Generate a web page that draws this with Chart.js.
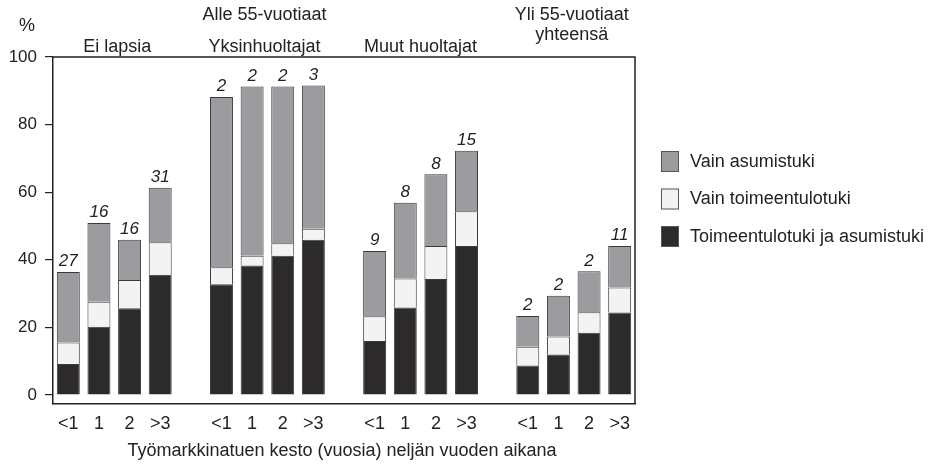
<!DOCTYPE html>
<html>
<head>
<meta charset="utf-8">
<script src="https://cdn.jsdelivr.net/npm/chart.js@4.4.1/dist/chart.umd.min.js"></script>
<style>
  body { margin: 0; background: #fff; }
  #chart { display: block; }
</style>
</head>
<body>
<canvas id="chart" width="935" height="465"></canvas>
<script>
// kesto-luokat ja ryhmät
var durations = ['<1', '1', '2', '>3'];
var groups = ['Ei lapsia', 'Yksinhuoltajat', 'Muut huoltajat', 'Yli 55-vuotiaat yhteensä'];
var yTicks = [0, 20, 40, 60, 80, 100];

// osuudet (%) ryhmittäin, 4 kestoa per ryhmä
var bothSupport = [9.2, 20.2, 25.7, 35.6, 32.8, 38.3, 41.2, 45.9, 16.0, 25.9, 34.3, 44.1, 8.7, 12.0, 18.4, 24.4];
var incomeOnly = [6.3, 7.4, 8.3, 9.6, 5.0, 2.9, 3.7, 3.3, 7.3, 8.6, 9.8, 10.3, 5.6, 5.3, 6.1, 7.4];
var housingOnly = [20.9, 23.3, 11.9, 16.1, 50.4, 50.1, 46.4, 42.4, 19.3, 22.4, 21.2, 17.9, 9.1, 12.1, 12.1, 12.3];
var counts = [27, 16, 16, 31, 2, 2, 2, 3, 9, 8, 8, 15, 2, 2, 2, 11];

var FONT = "'Liberation Sans', Arial, sans-serif";
var colors = { housing: '#9c9ca0', income: '#f2f3f2', both: '#2c2a2b', edge: '#3a3a3a' };

// lisätään tyhjä väli ryhmien väliin
function withGaps(arr, filler) {
  var out = [];
  for (var i = 0; i < arr.length; i++) {
    out.push(arr[i]);
    if (i % 4 == 3 && i < arr.length - 1) out.push(filler);
  }
  return out;
}

var labels = [];
for (var g = 0; g < groups.length; g++) labels = labels.concat(durations);
labels = withGaps(labels, '');
var countsGap = withGaps(counts, null);

function ds(label, data, color) {
  return {
    label: label,
    data: withGaps(data, null),
    backgroundColor: color,
    borderColor: colors.edge,
    borderWidth: 1,
    barPercentage: 0.75,
    categoryPercentage: 1
  };
}

var extras = {
  id: 'extras',
  afterDraw: function (chart) {
    var ctx = chart.ctx;
    var a = chart.chartArea;
    var x = chart.scales.x;
    ctx.save();
    // kehys ylä- ja oikealle
    ctx.strokeStyle = '#222';
    ctx.lineWidth = 1.5;
    ctx.beginPath();
    ctx.moveTo(a.left, a.top);
    ctx.lineTo(a.right, a.top);
    ctx.lineTo(a.right, a.bottom);
    ctx.stroke();

    // lukumäärät pylväiden päälle
    var meta = chart.getDatasetMeta(2);
    ctx.fillStyle = '#222';
    ctx.font = 'italic 17px ' + FONT;
    ctx.textAlign = 'center';
    ctx.textBaseline = 'bottom';
    for (var i = 0; i < countsGap.length; i++) {
      if (countsGap[i] == null) continue;
      var bar = meta.data[i];
      ctx.fillText(countsGap[i], bar.x, bar.y - 2);
    }

    // otsikot
    ctx.font = '18px ' + FONT;
    ctx.textBaseline = 'middle';
    var centers = [];
    for (var g = 0; g < 4; g++) {
      var first = g * 5, last = g * 5 + 3;
      centers.push((x.getPixelForValue(first) + x.getPixelForValue(last)) / 2);
    }
    ctx.fillText('%', 27, 26);
    ctx.fillText(groups[0], centers[0] + 3, 47);
    ctx.fillText(groups[1], centers[1] - 3, 47);
    ctx.fillText(groups[2], centers[2], 47);
    ctx.fillText('Alle 55-vuotiaat', centers[1] - 3, 15);
    ctx.fillText('Yli 55-vuotiaat', centers[3] - 2, 15);
    ctx.fillText('yhteensä', centers[3] - 2, 35);
    ctx.fillText('Työmarkkinatuen kesto (vuosia) neljän vuoden aikana', (a.left + a.right) / 2 - 2, 451);

    // selite
    var items = [
      ['Vain asumistuki', colors.housing],
      ['Vain toimeentulotuki', colors.income],
      ['Toimeentulotuki ja asumistuki', colors.both]
    ];
    ctx.textAlign = 'left';
    for (var k = 0; k < items.length; k++) {
      var top = 151 + k * 37.5;
      ctx.fillStyle = items[k][1];
      ctx.fillRect(661, top, 18, 21);
      ctx.strokeStyle = '#555';
      ctx.lineWidth = 1;
      ctx.strokeRect(661.5, top + 0.5, 17, 20);
      ctx.fillStyle = '#222';
      ctx.fillText(items[k][0], 690, top + 11);
    }
    ctx.restore();
  }
};

new Chart(document.getElementById('chart'), {
  type: 'bar',
  data: {
    labels: labels,
    datasets: [
      ds('Toimeentulotuki ja asumistuki', bothSupport, colors.both),
      ds('Vain toimeentulotuki', incomeOnly, colors.income),
      ds('Vain asumistuki', housingOnly, colors.housing)
    ]
  },
  options: {
    responsive: false,
    animation: false,
    layout: { padding: { left: 0, top: 57, right: 300, bottom: 0 } },
    plugins: { legend: { display: false }, tooltip: { enabled: false } },
    scales: {
      x: {
        stacked: true,
        grid: { display: false },
        border: { display: true, color: '#222', width: 1.5 },
        ticks: { color: '#222', font: { family: FONT, size: 18 }, padding: 1, maxRotation: 0, autoSkip: false },
        afterFit: function (s) { s.height = 61; }
      },
      y: {
        stacked: true,
        min: -2.66,
        max: 100,
        grid: { drawOnChartArea: false, drawTicks: true, tickLength: 8, color: '#222', lineWidth: 1.2 },
        border: { display: true, color: '#222', width: 1.5 },
        ticks: { color: '#222', font: { family: FONT, size: 17 }, padding: 8 },
        afterBuildTicks: function (axis) {
          axis.ticks = yTicks.map(function (v) { return { value: v }; });
        },
        afterFit: function (s) { s.width = 53; }
      }
    }
  },
  plugins: [extras]
});
</script>
</body>
</html>
